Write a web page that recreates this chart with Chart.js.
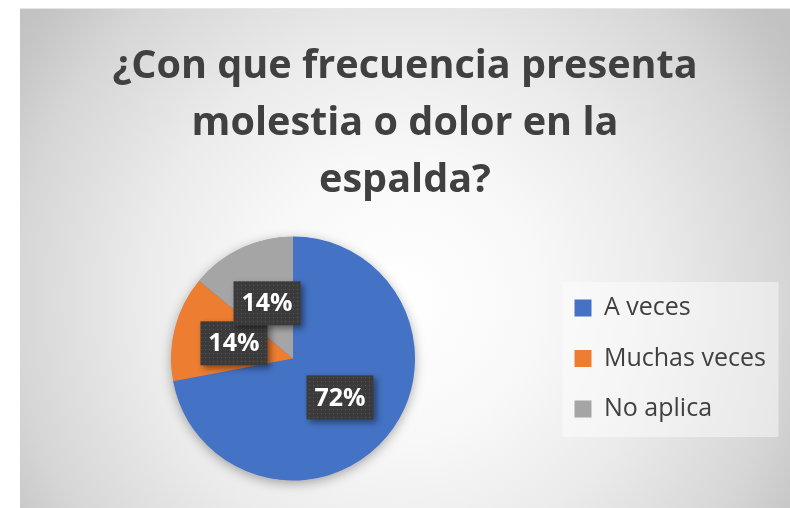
<!DOCTYPE html>
<html>
<head>
<meta charset="utf-8">
<script src="https://cdn.jsdelivr.net/npm/chart.js@4.4.1/dist/chart.umd.min.js"></script>
<style>
  html, body { margin:0; padding:0; background:#fff; }
  #wrap { position:absolute; left:20px; top:8px; width:770px; height:500px; }
</style>
</head>
<body>
<div id="wrap"><canvas id="pieChart" width="770" height="500"></canvas></div>
<script>
// data
const titleLines = ['¿Con que frecuencia presenta', 'molestia o dolor en la', 'espalda?'];
const categories = ['A veces', 'Muchas veces', 'No aplica'];
const percents = [72, 14, 14];
const sliceColors = ['#4472C4', '#ED7D31', '#A5A5A5'];

const FONT = "'Open Sans', 'DejaVu Sans', sans-serif";
const el = id => document.getElementById(id);

// fit title size so first line is ~586px wide
const mctx = document.createElement('canvas').getContext('2d');
mctx.font = 'bold 40px ' + FONT;
const titleSize = Math.round(40 * 586 / mctx.measureText(titleLines[0]).width * 10) / 10;

// dotted dark fill for the value labels
function makePattern(ctx){
  const c = document.createElement('canvas');
  c.width = 4; c.height = 4;
  const p = c.getContext('2d');
  p.fillStyle = '#3b3b3b'; p.fillRect(0,0,4,4);
  p.fillStyle = '#555555'; p.fillRect(1,1,1,1);
  return ctx.createPattern(c, 'repeat');
}

const backdrop = {
  id: 'backdrop',
  beforeDraw(chart){
    const {ctx, width, height} = chart;
    ctx.save();
    const g = ctx.createRadialGradient(380, 292, 0, 380, 292, 470);
    g.addColorStop(0, '#ffffff');
    g.addColorStop(0.3, '#f8f8f8');
    g.addColorStop(0.55, '#ebebeb');
    g.addColorStop(0.82, '#d6d6d6');
    g.addColorStop(0.95, '#c6c6c6');
    g.addColorStop(1, '#c2c2c2');
    ctx.fillStyle = g;
    ctx.fillRect(0, 0, width, height);
    ctx.fillStyle = '#e6e6e6';
    ctx.fillRect(0, 0, width, 1);
    // legend panel
    const hb = chart.legend.legendHitBoxes;
    if (hb && hb.length){
      const first = hb[0], last = hb[hb.length-1];
      const top = first.top + first.height/2 - 26;
      const bottom = last.top + last.height/2 + 28;
      ctx.fillStyle = 'rgba(255,255,255,0.45)';
      ctx.fillRect(first.left - 12, top, 216, bottom - top);
    }
    ctx.restore();
  },
  beforeDatasetsDraw(chart){
    const arc = chart.getDatasetMeta(0).data[0];
    if (!arc) return;
    const ctx = chart.ctx;
    ctx.save();
    ctx.shadowColor = 'rgba(0,0,0,0.35)';
    ctx.shadowBlur = 12;
    ctx.shadowOffsetY = 3;
    ctx.fillStyle = sliceColors[0];
    ctx.beginPath();
    ctx.arc(arc.x, arc.y, arc.outerRadius - 0.5, 0, Math.PI*2);
    ctx.fill();
    ctx.restore();
  },
  afterDatasetsDraw(chart){
    const ctx = chart.ctx;
    const pat = makePattern(ctx);
    chart.getDatasetMeta(0).data.forEach((arc, i) => {
      const pos = arc.tooltipPosition();
      const w = 67, h = 44;
      ctx.save();
      ctx.shadowColor = 'rgba(0,0,0,0.45)';
      ctx.shadowBlur = 6;
      ctx.shadowOffsetX = 3;
      ctx.shadowOffsetY = 3;
      ctx.fillStyle = pat;
      ctx.fillRect(pos.x - w/2, pos.y - h/2, w, h);
      ctx.restore();
      ctx.save();
      ctx.fillStyle = '#ffffff';
      ctx.font = 'bold 25px ' + FONT;
      ctx.textAlign = 'center';
      ctx.textBaseline = 'middle';
      ctx.fillText(percents[i] + '%', pos.x, pos.y + 1);
      ctx.restore();
    });
  }
};

new Chart(el('pieChart').getContext('2d'), {
  type: 'pie',
  data: {
    labels: categories,
    datasets: [{ data: percents, backgroundColor: sliceColors, borderWidth: 0 }]
  },
  options: {
    responsive: false,
    devicePixelRatio: 1,
    animation: false,
    events: [],
    layout: { padding: { left: 17, right: 17, top: 0, bottom: 27.5 } },
    plugins: {
      tooltip: { enabled: false },
      title: {
        display: true,
        text: titleLines,
        color: '#404040',
        font: { family: FONT, size: titleSize, weight: 'bold', lineHeight: 57 / titleSize },
        padding: { top: 30, bottom: 27.5 }
      },
      legend: {
        position: 'right',
        fullSize: false,
        maxWidth: 224,
        labels: {
          color: '#404040',
          font: { family: FONT, size: 25 },
          boxWidth: 17,
          boxHeight: 17,
          padding: 25.5
        }
      }
    }
  },
  plugins: [backdrop]
});
</script>
</body>
</html>
